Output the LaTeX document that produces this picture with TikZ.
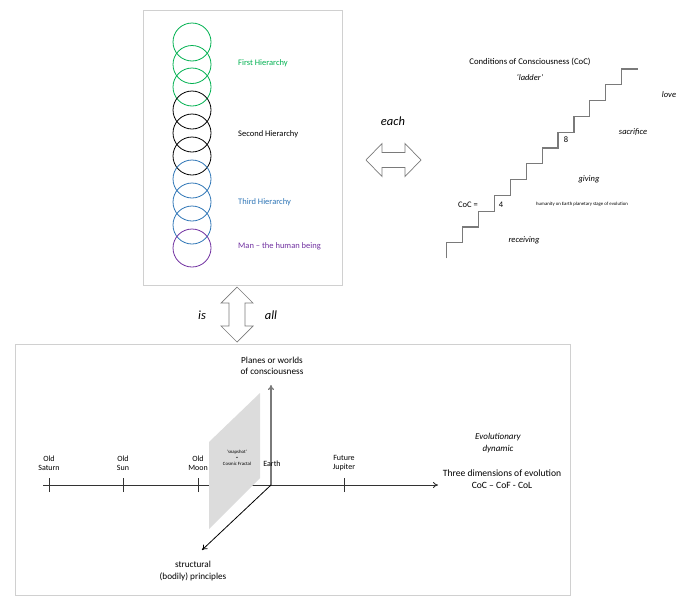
\documentclass[tikz,border=0pt]{standalone}
\usepackage{fontspec}
\setmainfont{Carlito}
\usetikzlibrary{arrows.meta}
\definecolor{hgreen}{HTML}{00B050}
\definecolor{hblue}{HTML}{2E75B6}
\definecolor{hpurple}{HTML}{7030A0}
\definecolor{boxgrey}{HTML}{D0D0D0}
\definecolor{planegrey}{HTML}{DCDCDC}
\definecolor{stairgrey}{HTML}{7A7A7A}
\tikzset{
  panel/.style={draw=boxgrey, line width=0.7pt},
  ring/.style={line width=0.8pt},
  lbl/.style={font=\fontsize{8.5}{10}\selectfont, anchor=west, inner sep=0pt},
  small/.style={font=\fontsize{8}{9.5}\selectfont, align=center, inner sep=0pt},
  tiny/.style={font=\fontsize{4.8}{5.8}\selectfont, align=center, inner sep=0pt},
  ital/.style={font=\fontsize{8.5}{10}\selectfont\itshape, align=center, inner sep=0pt},
  bigital/.style={font=\fontsize{12.5}{14}\selectfont\itshape, inner sep=0pt},
  blockarrow/.style={draw=stairgrey, fill=white, line width=0.7pt, line join=miter},
  tickmark/.style={line width=0.9pt, draw=black!80},
  axis/.style={line width=0.9pt, draw=black!80, -{To[length=5pt,width=6pt]}},
}
\begin{document}
\begin{tikzpicture}[x=1pt,y=-1pt]
\useasboundingbox (0,0) rectangle (700,608);
% top panel
\draw[panel] (143,10) rectangle (342,285);
\foreach \y in {42,64.5,87} \draw[ring,hgreen] (192,\y) circle (19);
\foreach \y in {110,133,156} \draw[ring,black] (192,\y) circle (19);
\foreach \y in {179,202,225} \draw[ring,hblue] (192,\y) circle (19);
\draw[ring,hpurple] (192,248) circle (19);
\node[lbl,text=hgreen] (h1) at (238,63) {First Hierarchy};
\node[lbl] (h2) at (238,134) {Second Hierarchy};
\node[lbl,text=hblue] (h3) at (238,202) {Third Hierarchy};
\node[lbl,text=hpurple] (h4) at (238,246) {Man – the human being};
% horizontal double arrow
\draw[blockarrow] (366,160)--(382,143.5)--(382,152.5)--(405,152.5)--(405,143.5)--(421,160)--(405,176.5)--(405,167.5)--(382,167.5)--(382,176.5)--cycle;
\node[bigital] (each) at (393,121) {each};
% vertical double arrow
\draw[blockarrow] (237,287)--(253,303)--(245,303)--(245,326)--(253,326)--(237,342)--(221,326)--(229,326)--(229,303)--(221,303)--cycle;
\node[bigital] (is) at (202,315) {is};
\node[bigital] (all) at (271,315) {all};
% staircase
\draw[stairgrey, line width=1.2pt, line join=miter]
 (446.7,258.3)--(446.7,242.7)--(462.6,242.7)--(462.6,226.9)--(478.5,226.9)--(478.5,211.1)--(494.4,211.1)--(494.4,195.3)--(510.3,195.3)--(510.3,179.5)--(526.2,179.5)--(526.2,163.7)--(542.1,163.7)--(542.1,147.9)--(558.0,147.9)--(558.0,132.1)--(573.9,132.1)--(573.9,116.3)--(589.8,116.3)--(589.8,100.5)--(605.7,100.5)--(605.7,84.7)--(621.6,84.7)--(621.6,68.9)--(637.5,68.9);
\node[font=\fontsize{8.7}{10}\selectfont, inner sep=0pt] (coc) at (530,62) {Conditions of Consciousness (CoC)};
\node[ital] (ladder) at (530,77) {‘ladder’};
\node[ital] (love) at (669,95) {love};
\node[ital] (sacr) at (633,132) {sacrifice};
\node[font=\fontsize{8.5}{10}\selectfont, inner sep=0pt] (eight) at (566,140) {8};
\node[ital] (giving) at (589,179) {giving};
\node[font=\fontsize{8.5}{10}\selectfont, inner sep=0pt] (coceq) at (468,205) {CoC =};
\node[font=\fontsize{8.5}{10}\selectfont, inner sep=0pt] (four) at (501,205) {4};
\node[tiny] (hum) at (582,204.5) {humanity on Earth planetary stage of evolution};
\node[ital] (recv) at (524,240) {receiving};
% bottom panel
\draw[panel] (15,344) rectangle (570,595);
\coordinate (O) at (271,485);
\coordinate (axL) at (43,485);
\coordinate (axR) at (438,485);
\coordinate (up) at (271,385);
\coordinate (dl) at (202,550);
\draw[axis] (axL) -- (axR);
\foreach \x/\n in {49/sat,123/sun,198/moon,344/jup} {
  \coordinate (t\n) at (\x,485);
  \draw[tickmark] ([yshift=-7pt]t\n) -- ([yshift=7pt]t\n);
}
\fill[planegrey] (209,442)--(260,393)--(260,478)--(209,529)--cycle;
\draw[line width=1.3pt, draw=stairgrey, -{To[length=5pt,width=6pt]}] (O) -- (up);
\draw[line width=0.8pt, -{To[length=5pt,width=6pt]}] (O) -- (dl);
\node[small] (lsat) at (49,463) {Old\\Saturn};
\node[small] (lsun) at (123,463) {Old\\Sun};
\node[small] (lmoon) at (198,463) {Old\\Moon};
\node[small] (ljup) at (344,463) {Future\\Jupiter};
\node[small] (learth) at (272,464) {Earth};
\node[tiny] (snap) at (237,458) {‘snapshot’\\=\\Cosmic Fractal};
\node[font=\fontsize{9.2}{11.5}\selectfont, align=center, inner sep=0pt] (planes) at (272,366) {Planes or worlds\\of consciousness};
\node[font=\fontsize{9.2}{11.5}\selectfont, align=center, inner sep=0pt] (struct) at (193,571) {structural\\(bodily) principles};
\node[font=\fontsize{9}{11.5}\selectfont\itshape, align=center, inner sep=0pt] (evo) at (498,443) {Evolutionary\\dynamic};
\node[font=\fontsize{9.6}{12}\selectfont, align=center, inner sep=0pt] (three) at (502,479) {Three dimensions of evolution\\CoC – CoF - CoL};
\end{tikzpicture}
\end{document}
